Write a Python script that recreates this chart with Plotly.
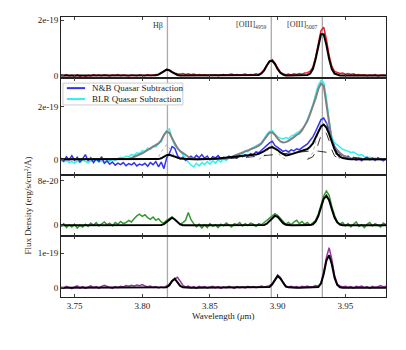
import numpy as np
import plotly.graph_objects as go
from plotly.subplots import make_subplots

# ── wavelength grid (micron), uniform sampling 3.740 .. 3.980 ────────────────
WAVE_START, WAVE_STEP, N_PIX = 3.740, 0.002, 121
wave = np.round(WAVE_START + WAVE_STEP * np.arange(N_PIX), 4)

# line centres (Hβ, [OIII]4959, [OIII]5007) in the observed frame
line_centres = [3.8186, 3.8953, 3.933]
line_labels = ["Hβ", "[OIII]<sub>4959</sub>", "[OIII]<sub>5007</sub>"]

# ── panel 1 : integrated spectrum (units 1e-19) ─────────────────────────────
red_flux = [
    0.02, -0.01, 0.03, -0.02, 0.01, -0.03, 0.02, -0.05, -0.09, -0.04,
    0.01, -0.02, 0.03, 0.00, 0.02, -0.01, 0.03, 0.01, -0.02, 0.02,
    0.00, 0.03, -0.01, 0.02, 0.01, -0.02, 0.02, 0.00, -0.01, 0.02,
    0.01, -0.01, 0.03, 0.00, 0.02, 0.04, 0.05, 0.10, 0.17, 0.22,
    0.18, 0.12, 0.08, 0.06, 0.05, 0.07, 0.04, 0.06, 0.03, 0.05,
    0.02, 0.04, 0.01, 0.03, 0.00, 0.02, 0.01, 0.03, -0.01, 0.02,
    0.04, 0.01, 0.03, 0.05, 0.02, 0.04, 0.01, 0.03, 0.05, 0.02,
    0.04, 0.03, 0.06, 0.04, 0.10, 0.22, 0.38, 0.52, 0.57, 0.45,
    0.27, 0.12, 0.06, 0.03, 0.05, 0.02, 0.06, 0.04, 0.07, 0.05,
    0.09, 0.10, 0.16, 0.30, 0.66, 1.18, 1.62, 1.74, 1.30, 0.72,
    0.33, 0.15, 0.10, 0.07, 0.09, 0.05, 0.07, 0.04, 0.06, 0.02,
    0.04, 0.01, 0.03, -0.01, 0.02, 0.00, 0.03, -0.02, 0.01, 0.02,
    0.00,
]
fit1_flux = [
    0, 0, 0, 0, 0, 0, 0, 0, 0, 0,
    0, 0, 0, 0, 0, 0, 0, 0, 0, 0,
    0, 0, 0, 0, 0, 0, 0, 0, 0, 0,
    0, 0, 0, 0, 0, 0.01, 0.03, 0.08, 0.15, 0.21,
    0.19, 0.12, 0.06, 0.02, 0, 0, 0, 0, 0, 0,
    0, 0, 0, 0, 0, 0, 0, 0, 0, 0,
    0, 0, 0, 0, 0, 0, 0, 0, 0, 0,
    0, 0, 0, 0.02, 0.07, 0.18, 0.36, 0.51, 0.53, 0.41,
    0.23, 0.10, 0.03, 0, 0, 0, 0, 0, 0, 0,
    0, 0.02, 0.07, 0.23, 0.59, 1.10, 1.49, 1.49, 1.10, 0.59,
    0.23, 0.07, 0.02, 0, 0, 0, 0, 0, 0, 0,
    0, 0, 0, 0, 0, 0, 0, 0, 0, 0,
    0,
]

# ── panel 2 : quasar-subtracted spectra (units 1e-19) ───────────────────────
nb_flux = [
    0.05, -0.06, 0.10, -0.02, 0.14, -0.04, 0.08, -0.10, 0.03, 0.18,
    -0.05, 0.06, -0.12, 0.02, -0.08, 0.10, -0.15, -0.06, -0.18, -0.10,
    -0.22, -0.14, -0.20, -0.12, -0.24, -0.16, -0.21, -0.13, -0.25, -0.18,
    -0.22, -0.15, -0.26, -0.12, -0.20, -0.08, -0.28, -0.10, -0.35, 0.05,
    0.22, 0.48, 0.42, 0.15, 0.02, 0.08, -0.04, 0.05, 0.12, 0.03,
    0.15, 0.06, 0.18, 0.04, 0.12, -0.02, 0.10, 0.05, 0.14, 0.02,
    0.08, 0.04, 0.12, 0.06, 0.10, 0.05, 0.14, 0.10, 0.18, 0.12,
    0.22, 0.18, 0.28, 0.25, 0.35, 0.42, 0.55, 0.62, 0.68, 0.52,
    0.45, 0.38, 0.30, 0.34, 0.28, 0.36, 0.32, 0.40, 0.36, 0.44,
    0.50, 0.58, 0.72, 0.85, 1.05, 1.30, 1.50, 1.56, 1.38, 1.10,
    0.72, 0.50, 0.32, 0.22, 0.15, 0.08, 0.12, 0.02, 0.06, -0.03,
    0.04, -0.05, 0.03, 0.08, -0.02, 0.05, -0.04, 0.06, 0.00, -0.06,
    0.03,
]
blr_flux = [
    -0.05, -0.10, -0.04, -0.12, -0.08, -0.15, -0.06, -0.11, -0.03, -0.09,
    -0.13, -0.05, -0.08, -0.02, -0.10, -0.06, -0.12, -0.04, -0.07, 0.00,
    -0.05, 0.03, 0.08, 0.05, 0.12, 0.10, 0.18, 0.15, 0.25, 0.22,
    0.33, 0.30, 0.42, 0.38, 0.50, 0.47, 0.60, 0.66, 0.92, 1.08,
    1.15, 0.78, 0.52, 0.45, 0.30, 0.18, 0.05, -0.10, -0.22, -0.28,
    -0.15, -0.25, -0.12, -0.20, -0.08, -0.18, -0.05, -0.14, -0.02, -0.10,
    0.02, -0.04, 0.08, 0.05, 0.15, 0.12, 0.22, 0.20, 0.32, 0.28,
    0.40, 0.45, 0.52, 0.58, 0.62, 0.78, 0.95, 1.05, 1.08, 0.95,
    0.85, 0.80, 0.76, 0.82, 0.78, 0.88, 0.92, 1.00, 1.05, 1.15,
    1.28, 1.50, 1.80, 2.05, 2.45, 2.80, 2.97, 2.90, 2.30, 1.45,
    0.85, 0.62, 0.55, 0.45, 0.38, 0.35, 0.30, 0.26, 0.28, 0.20,
    0.15, 0.18, 0.10, 0.06, 0.08, 0.03, 0.05, 0.00, 0.04, -0.02,
    0.02,
]
nb_fit = [
    0, 0, 0, 0, 0, 0, 0, 0, 0, 0,
    0, 0, 0, 0, 0, 0, 0, 0, 0, 0,
    0, 0, 0, 0, 0, 0, 0, 0, 0, 0,
    0, 0, 0, 0, 0, 0, 0.01, 0.04, 0.10, 0.16,
    0.17, 0.13, 0.08, 0.05, 0.03, 0.02, 0.01, 0, 0, 0,
    0, 0, 0, 0, 0, 0, 0.01, 0.02, 0.03, 0.04,
    0.05, 0.06, 0.07, 0.08, 0.09, 0.10, 0.11, 0.12, 0.13, 0.14,
    0.14, 0.16, 0.18, 0.21, 0.25, 0.31, 0.38, 0.44, 0.46, 0.42,
    0.35, 0.26, 0.19, 0.15, 0.16, 0.19, 0.23, 0.26, 0.29, 0.32,
    0.35, 0.39, 0.48, 0.60, 0.82, 1.06, 1.24, 1.31, 1.20, 0.96,
    0.63, 0.38, 0.20, 0.10, 0.05, 0.02, 0.01, 0, 0, 0,
    0, 0, 0, 0, 0, 0, 0, 0, 0, 0,
    0,
]
blr_fit = [
    0, 0, 0, 0, 0, 0, 0, 0, 0, 0,
    0, 0, 0, 0, 0, 0, 0, 0, 0, 0,
    0, 0, 0, 0, 0, 0.02, 0.05, 0.09, 0.13, 0.18,
    0.23, 0.29, 0.35, 0.41, 0.47, 0.53, 0.60, 0.72, 0.92, 1.05,
    1.00, 0.80, 0.58, 0.42, 0.31, 0.23, 0.16, 0.10, 0.05, 0.02,
    0, 0, 0, 0, 0, 0, 0, 0, 0, 0,
    0, 0.02, 0.05, 0.09, 0.13, 0.17, 0.21, 0.25, 0.30, 0.34,
    0.38, 0.42, 0.46, 0.52, 0.60, 0.74, 0.90, 1.01, 1.02, 0.92,
    0.78, 0.68, 0.64, 0.65, 0.70, 0.76, 0.84, 0.92, 0.98, 1.10,
    1.25, 1.45, 1.72, 1.98, 2.30, 2.65, 2.86, 2.78, 2.10, 1.25,
    0.68, 0.46, 0.34, 0.24, 0.16, 0.10, 0.06, 0.03, 0.01, 0,
    0, 0, 0, 0, 0, 0, 0, 0, 0, 0,
    0,
]
# individual fit components (panel 2)
nb_broad_wave = [3.850, 3.860, 3.870, 3.880, 3.890, 3.900, 3.910, 3.920,
                 3.925, 3.930, 3.940, 3.950, 3.960, 3.970]
nb_broad_flux = [0.00, 0.02, 0.05, 0.09, 0.14, 0.20, 0.26, 0.31,
                 0.32, 0.31, 0.24, 0.13, 0.05, 0.01]
nb_narrow_wave = [3.922, 3.926, 3.928, 3.930, 3.932, 3.934, 3.936, 3.938,
                  3.940, 3.942, 3.946]
nb_narrow_flux = [0.00, 0.10, 0.28, 0.58, 0.90, 1.05, 0.98, 0.70,
                  0.36, 0.13, 0.00]
blr_hb_wave = [3.808, 3.812, 3.815, 3.818, 3.821, 3.824, 3.828]
blr_hb_flux = [0.00, 0.10, 0.35, 0.55, 0.35, 0.10, 0.00]
blr_4959_wave = [3.886, 3.890, 3.893, 3.896, 3.899, 3.902, 3.906]
blr_4959_flux = [0.00, 0.12, 0.38, 0.52, 0.38, 0.12, 0.00]
blr_5007_wave = [3.922, 3.926, 3.929, 3.932, 3.934, 3.936, 3.939, 3.942, 3.946]
blr_5007_flux = [0.00, 0.25, 0.85, 1.40, 1.50, 1.38, 0.85, 0.30, 0.00]

# ── panel 3 : (units 1e-20) ─────────────────────────────────────────────────
green_flux = [
    -0.2, 0.3, -0.4, 0.1, -0.3, 0.2, -0.5, 0.0, -0.3, 0.2,
    -0.2, 0.4, 0.0, 0.5, -0.1, 0.3, 0.6, 0.1, 0.4, -0.1,
    0.5, 0.2, 0.7, 0.3, 0.5, 0.9, 0.6, 1.2, 1.7, 2.0,
    1.6, 1.9, 1.4, 1.1, 1.5, 0.9, 1.2, 0.6, 0.4, 0.9,
    1.2, 1.5, 1.1, 0.6, 0.2, 0.5, 0.9, 2.3, 1.0, 0.3,
    -0.3, 0.2, -0.5, 0.1, -0.4, 0.3, -0.2, 0.1, -0.4, 0.2,
    -0.1, 0.4, 0.0, -0.3, 0.3, 0.1, 0.5, -0.1, 0.3, 0.0,
    0.4, 0.2, -0.2, 0.3, 0.1, 0.5, 0.9, 1.4, 1.7, 2.1,
    1.8, 1.2, 0.6, 0.2, 0.5, 0.1, 0.6, 0.9, 0.3, 0.7,
    0.2, 0.5, 0.0, 0.4, 0.9, 2.0, 3.6, 5.3, 6.2, 5.4,
    3.4, 1.8, 0.7, 0.2, 0.5, -0.1, 0.3, -0.3, 0.2, 0.6,
    -0.2, 0.1, -0.4, 0.2, 0.5, -0.1, 0.3, 0.0, -0.3, 0.4,
    0.1,
]
fit3_flux = [
    0, 0, 0, 0, 0, 0, 0, 0, 0, 0,
    0, 0, 0, 0, 0, 0, 0, 0, 0, 0,
    0, 0, 0, 0, 0, 0, 0, 0, 0, 0,
    0, 0, 0, 0, 0, 0, 0, 0.05, 0.21, 0.61,
    1.14, 1.37, 1.05, 0.51, 0.16, 0.03, 0, 0, 0, 0,
    0, 0, 0, 0, 0, 0, 0, 0, 0, 0,
    0, 0, 0, 0, 0, 0, 0, 0, 0, 0,
    0, 0, 0, 0, 0, 0.07, 0.28, 0.74, 1.36, 1.72,
    1.52, 0.92, 0.39, 0.11, 0.02, 0, 0, 0, 0, 0,
    0, 0, 0.04, 0.19, 0.65, 1.67, 3.25, 4.78, 5.34, 4.53,
    2.90, 1.41, 0.52, 0.14, 0.03, 0, 0, 0, 0, 0,
    0, 0, 0, 0, 0, 0, 0, 0, 0, 0,
    0,
]

# ── panel 4 : (units 1e-19) ─────────────────────────────────────────────────
purple_flux = [
    0.01, -0.02, 0.04, 0.00, -0.03, 0.02, 0.05, -0.01, 0.03, -0.02,
    0.02, 0.05, 0.00, 0.03, -0.02, 0.04, 0.07, 0.03, 0.01, -0.02,
    0.03, 0.00, 0.04, 0.02, 0.06, 0.04, 0.07, 0.05, 0.08, 0.06,
    0.09, 0.05, 0.03, 0.05, 0.01, 0.03, -0.01, 0.02, 0.00, 0.05,
    0.10, 0.21, 0.26, 0.30, 0.19, 0.07, 0.02, 0.05, 0.00, 0.03,
    -0.02, 0.04, 0.01, 0.03, -0.01, 0.02, 0.04, 0.00, 0.03, -0.02,
    0.02, 0.00, 0.04, 0.01, -0.02, 0.03, 0.00, 0.02, -0.01, 0.04,
    0.01, 0.03, 0.00, 0.02, 0.05, 0.02, 0.04, 0.06, 0.12, 0.25,
    0.37, 0.30, 0.15, 0.05, 0.02, 0.04, 0.01, 0.03, 0.00, 0.04,
    0.02, 0.05, 0.01, 0.03, 0.06, 0.04, 0.14, 0.45, 0.88, 1.16,
    0.82, 0.36, 0.10, 0.05, 0.02, 0.04, 0.01, 0.03, -0.01, 0.04,
    0.02, 0.05, 0.00, 0.03, -0.02, 0.04, 0.01, 0.03, 0.06, 0.02,
    0.04,
]
fit4_flux = [
    0, 0, 0, 0, 0, 0, 0, 0, 0, 0,
    0, 0, 0, 0, 0, 0, 0, 0, 0, 0,
    0, 0, 0, 0, 0, 0, 0, 0, 0, 0,
    0, 0, 0, 0, 0, 0, 0, 0, 0, 0.01,
    0.07, 0.19, 0.26, 0.16, 0.05, 0.01, 0, 0, 0, 0,
    0, 0, 0, 0, 0, 0, 0, 0, 0, 0,
    0, 0, 0, 0, 0, 0, 0, 0, 0, 0,
    0, 0, 0, 0, 0, 0, 0, 0.02, 0.10, 0.24,
    0.34, 0.27, 0.13, 0.03, 0.01, 0, 0, 0, 0, 0,
    0, 0, 0, 0, 0, 0.02, 0.12, 0.40, 0.79, 0.94,
    0.68, 0.29, 0.08, 0.01, 0, 0, 0, 0, 0, 0,
    0, 0, 0, 0, 0, 0, 0, 0, 0, 0,
    0,
]

for arr in (red_flux, fit1_flux, nb_flux, blr_flux, nb_fit, blr_fit,
            green_flux, fit3_flux, purple_flux, fit4_flux):
    assert len(arr) == N_PIX, len(arr)

# axis ranges and tick labels per panel
y_ranges = [[-0.09, 2.11], [-0.59, 3.07], [-1.93, 9.08], [-0.27, 1.50]]
y_tickvals = [[0, 2], [0, 2], [0, 8], [0, 1]]
y_ticktext = [["0", "2e-19"], ["0", "2e-19"], ["0", "8e-20"], ["0", "1e-19"]]
x_tickvals = [3.75, 3.80, 3.85, 3.90, 3.95]

legend_names = ["N&B Quasar Subtraction", "BLR Quasar Subtraction"]
legend_colors = ["#3333ee", "#33f0f0"]

SERIF = "Liberation Serif, Times New Roman, serif"
INK = "#222222"
FIT = dict(color="black", width=2)

fig = make_subplots(rows=4, cols=1, shared_xaxes=True, vertical_spacing=0,
                    row_heights=[61, 97, 61, 61])

# panel 1
fig.add_hline(y=0, row=1, col=1, line=dict(color="#999999", width=1, dash="dash"))
fig.add_trace(go.Scatter(x=wave, y=red_flux, mode="lines",
                         line=dict(color="#e8202a", width=1.5)), row=1, col=1)
fig.add_trace(go.Scatter(x=wave, y=fit1_flux, mode="lines", line=FIT), row=1, col=1)

# panel 2
fig.add_hline(y=0, row=2, col=1, line=dict(color="black", width=1, dash="dash"))
fig.add_trace(go.Scatter(x=wave, y=blr_flux, mode="lines", name=legend_names[1],
                         line=dict(color=legend_colors[1], width=1.5)), row=2, col=1)
fig.add_trace(go.Scatter(x=wave, y=nb_flux, mode="lines", name=legend_names[0],
                         line=dict(color=legend_colors[0], width=1.5)), row=2, col=1)
for cw, cf in ((blr_hb_wave, blr_hb_flux), (blr_4959_wave, blr_4959_flux),
               (blr_5007_wave, blr_5007_flux)):
    fig.add_trace(go.Scatter(x=cw, y=cf, mode="lines",
                             line=dict(color="#999999", width=0.8, dash="dot")), row=2, col=1)
for cw, cf in ((nb_broad_wave, nb_broad_flux), (nb_narrow_wave, nb_narrow_flux)):
    fig.add_trace(go.Scatter(x=cw, y=cf, mode="lines",
                             line=dict(color="black", width=0.8, dash="dash")), row=2, col=1)
fig.add_trace(go.Scatter(x=wave, y=blr_fit, mode="lines",
                         line=dict(color="#808080", width=2)), row=2, col=1)
fig.add_trace(go.Scatter(x=wave, y=nb_fit, mode="lines", line=FIT), row=2, col=1)

# panel 3
fig.add_hline(y=0, row=3, col=1, line=dict(color="black", width=1, dash="dash"))
fig.add_trace(go.Scatter(x=wave, y=green_flux, mode="lines",
                         line=dict(color="#339933", width=1.5)), row=3, col=1)
fig.add_trace(go.Scatter(x=wave, y=fit3_flux, mode="lines", line=FIT), row=3, col=1)

# panel 4
fig.add_hline(y=0, row=4, col=1, line=dict(color="black", width=1, dash="dash"))
fig.add_trace(go.Scatter(x=wave, y=purple_flux, mode="lines",
                         line=dict(color="#9b34a3", width=1.5)), row=4, col=1)
fig.add_trace(go.Scatter(x=wave, y=fit4_flux, mode="lines", line=FIT), row=4, col=1)

# emission-line markers across every panel
for lc in line_centres:
    fig.add_shape(type="line", xref="x", yref="paper", x0=lc, x1=lc, y0=0, y1=1,
                  line=dict(color="#aaaaaa", width=1.3), layer="below")
for lc, lab in zip(line_centres, line_labels):
    fig.add_annotation(x=lc, y=1.81, xref="x", yref="y", text=lab, showarrow=False,
                       xanchor="right", yanchor="middle", xshift=-2,
                       font=dict(family=SERIF, size=8, color="#333333"))

# compact matplotlib-style legend in the second panel
fig.add_shape(type="rect", xref="paper", yref="paper", x0=0.006, x1=0.375,
              y0=0.686, y1=0.764, fillcolor="rgba(255,255,255,0.85)",
              line=dict(color="#cccccc", width=1), layer="above")
for k, (name, col) in enumerate(zip(legend_names, legend_colors)):
    ly = 0.746 - 0.039 * k
    fig.add_shape(type="line", xref="paper", yref="paper", x0=0.018, x1=0.074,
                  y0=ly, y1=ly, line=dict(color=col, width=2), layer="above")
    fig.add_annotation(x=0.089, y=ly, xref="paper", yref="paper", text=name,
                       showarrow=False, xanchor="left", yanchor="middle",
                       font=dict(family=SERIF, size=9, color=INK))

for r in range(1, 5):
    fig.update_xaxes(row=r, col=1, range=[3.74, 3.98], tickvals=x_tickvals,
                     ticks="inside", ticklen=3, mirror="allticks", showline=True,
                     linecolor=INK, linewidth=1, showgrid=False, zeroline=False,
                     tickfont=dict(family=SERIF, size=9, color=INK))
    fig.update_yaxes(row=r, col=1, range=y_ranges[r - 1], tickvals=y_tickvals[r - 1],
                     ticktext=y_ticktext[r - 1], ticks="inside", ticklen=3,
                     mirror=True, showline=True, linecolor=INK, linewidth=1,
                     showgrid=False, zeroline=False, automargin=False,
                     tickfont=dict(family=SERIF, size=9, color=INK))
fig.update_xaxes(row=4, col=1, tickformat=".2f", automargin=False)

fig.add_annotation(x=0.5, y=-0.068, xref="paper", yref="paper",
                   xanchor="center", yanchor="middle",
                   text="Wavelength (<i>μ</i>m)", showarrow=False,
                   font=dict(family=SERIF, size=9, color=INK))
fig.add_annotation(x=-0.1015, y=0.327, xref="paper", yref="paper", textangle=-90,
                   xanchor="center", yanchor="middle",
                   text="Flux Density (erg/s/cm<sup>2</sup>/Å)", showarrow=False,
                   font=dict(family=SERIF, size=9, color=INK))

# page body adds an 8 px offset, so the figure is 8 px smaller than the window
fig.update_layout(
    width=398, height=342,
    margin=dict(l=53, r=20, t=9, b=53),
    template="none",
    showlegend=False,
    paper_bgcolor="white", plot_bgcolor="white",
    font=dict(family=SERIF, size=9, color=INK),
)

fig.write_html("out.html")
